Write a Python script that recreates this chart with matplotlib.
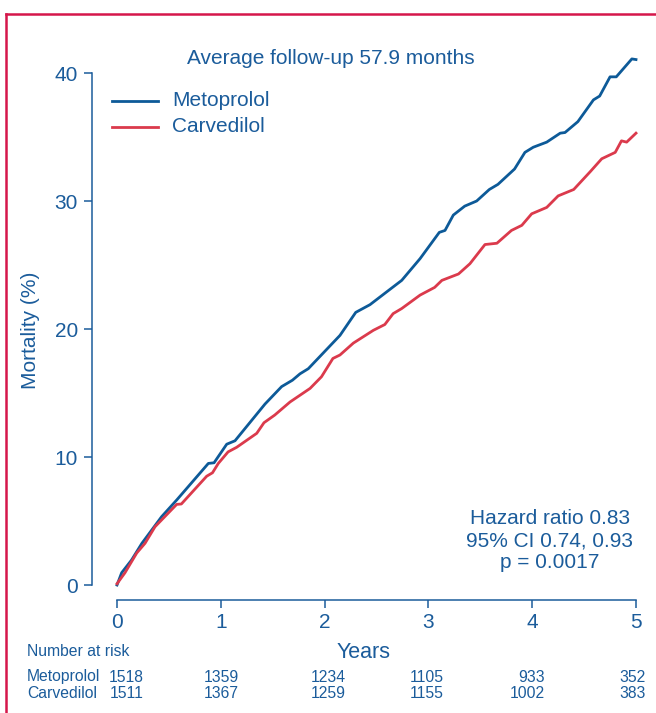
import matplotlib
matplotlib.use("Agg")
import matplotlib.pyplot as plt
from matplotlib.lines import Line2D
import matplotlib.transforms as mtransforms

# ---------------- data ----------------
meto_t = [0, 0.045, 0.14, 0.24, 0.43, 0.575, 0.88, 0.935, 1.057, 1.137, 1.426, 1.586,
          1.69, 1.763, 1.843, 2.148, 2.30, 2.437, 2.63, 2.743, 2.92, 3.105, 3.16, 3.24,
          3.35, 3.465, 3.587, 3.67, 3.83, 3.93, 4.01, 4.14, 4.27, 4.316, 4.44, 4.59,
          4.65, 4.75, 4.81, 4.96, 5.0]
meto_y = [0, 0.96, 1.95, 3.26, 5.34, 6.64, 9.5, 9.55, 11.0, 11.27, 14.14, 15.5,
          16.0, 16.5, 16.9, 19.5, 21.3, 21.9, 23.1, 23.8, 25.5, 27.55, 27.7, 28.9,
          29.6, 30.0, 30.9, 31.3, 32.5, 33.8, 34.2, 34.6, 35.3, 35.35, 36.2, 37.9,
          38.2, 39.7, 39.7, 41.1, 41.05]

carv_t = [0, 0.077, 0.19, 0.27, 0.366, 0.575, 0.62, 0.864, 0.92, 0.976, 1.07, 1.153,
          1.346, 1.416, 1.52, 1.667, 1.86, 1.97, 2.08, 2.148, 2.277, 2.47, 2.58, 2.66,
          2.743, 2.92, 3.06, 3.13, 3.29, 3.40, 3.545, 3.66, 3.80, 3.90, 3.995, 4.14,
          4.25, 4.40, 4.56, 4.67, 4.80, 4.86, 4.91, 5.0]
carv_y = [0.1, 0.96, 2.5, 3.26, 4.55, 6.3, 6.33, 8.5, 8.77, 9.5, 10.4, 10.76,
          11.85, 12.68, 13.28, 14.3, 15.36, 16.27, 17.7, 17.97, 18.9, 19.9, 20.35, 21.2,
          21.6, 22.65, 23.25, 23.8, 24.3, 25.1, 26.6, 26.7, 27.7, 28.1, 29.0, 29.5,
          30.4, 30.9, 32.3, 33.3, 33.8, 34.7, 34.6, 35.3]

x_ticks = [0, 1, 2, 3, 4, 5]
y_ticks = [0, 10, 20, 30, 40]
series_names = ["Metoprolol", "Carvedilol"]
risk_meto = [1518, 1359, 1234, 1105, 933, 352]
risk_carv = [1511, 1367, 1259, 1155, 1002, 383]
title_text = "Average follow-up 57.9 months"
stats_text = "Hazard ratio 0.83\n95% CI 0.74, 0.93\np = 0.0017"

# ---------------- style ----------------
TXT = "#1b5c9b"
BLUE = "#0d5a98"
RED = "#db3a4c"
BORDER = "#d5174a"
plt.rcParams["font.family"] = ["Liberation Sans", "DejaVu Sans"]

W, H = 656, 713
fig = plt.figure(figsize=(W / 100, H / 100), dpi=100)

def fx(px):
    return px / W

def fy(py):
    return 1 - py / H

# axes box: left spine at px 92, bottom spine at px 600, x=5 at 636, y=40 at 73
ax = fig.add_axes([fx(92), fy(600), fx(636) - fx(92), fy(73) - fy(600)])
ax.set_xlim(-0.2408, 5)
ax.set_ylim(-1.17, 40)

ax.plot(meto_t, meto_y, color=BLUE, lw=2.0, clip_on=False, solid_joinstyle="round")
ax.plot(carv_t, carv_y, color=RED, lw=2.0, clip_on=False, solid_joinstyle="round")

for s in ["top", "right"]:
    ax.spines[s].set_visible(False)
for s in ["left", "bottom"]:
    ax.spines[s].set_color(TXT)
    ax.spines[s].set_linewidth(1.1)
ax.spines["left"].set_bounds(0, 40)
ax.spines["bottom"].set_bounds(0, 5)
ax.set_xticks(x_ticks)
ax.set_yticks(y_ticks)
ax.set_xticklabels([str(v) for v in x_ticks])
ax.set_yticklabels([str(v) for v in y_ticks])
ax.tick_params(axis="both", colors=TXT, labelcolor=TXT, labelsize=15,
               length=6, width=1.1, direction="out")
ax.tick_params(axis="y", pad=4)
ax.tick_params(axis="x", pad=3)

# axis labels
fig.text(fx(30), fy(330), "Mortality (%)", rotation=90, ha="center", va="center",
         color=TXT, fontsize=15)
fig.text(fx(364), fy(652), "Years", ha="center", va="center", color=TXT, fontsize=15.5)

# title
fig.text(fx(331), fy(58), title_text, ha="center", va="center", color=TXT, fontsize=15)

# legend (manual)
leg_y = [101, 127]
for name, col, ly in zip(series_names, [BLUE, RED], leg_y):
    fig.add_artist(Line2D([fx(112), fx(158)], [fy(ly), fy(ly)], color=col, lw=2.0,
                          transform=fig.transFigure))
    fig.text(fx(172), fy(ly), name, ha="left", va="center", color=TXT, fontsize=15)

# stats text
fig.text(fx(550), fy(541), stats_text, ha="center", va="center", color=TXT,
         fontsize=15, linespacing=1.2)

# number at risk
fig.text(fx(27), fy(652), "Number at risk", ha="left", va="center", color=TXT, fontsize=11.3)
blend = mtransforms.blended_transform_factory(ax.transData, fig.transFigure)
risk_offsets_px = [27, 18, 21, 15, 13, 10]
for row_name, vals, py in [(series_names[0], risk_meto, 677), (series_names[1], risk_carv, 694)]:
    fig.text(fx(27), fy(py), row_name, ha="left", va="center", color=TXT, fontsize=11.3)
    for t, v, off in zip(x_ticks, vals, risk_offsets_px):
        tr = blend + mtransforms.ScaledTranslation(off / 100, 0, fig.dpi_scale_trans)
        fig.text(t, fy(py), str(v), ha="right", va="center", color=TXT,
                 fontsize=11.3, transform=tr)

# crimson frame (top and left)
fig.add_artist(Line2D([fx(5.5), 1.0], [fy(14), fy(14)], color=BORDER, lw=1.8,
                      transform=fig.transFigure, solid_capstyle="projecting"))
fig.add_artist(Line2D([fx(5.5), fx(5.5)], [fy(14), 0.0], color=BORDER, lw=1.8,
                      transform=fig.transFigure, solid_capstyle="projecting"))

fig.savefig("out.png", dpi=100)
